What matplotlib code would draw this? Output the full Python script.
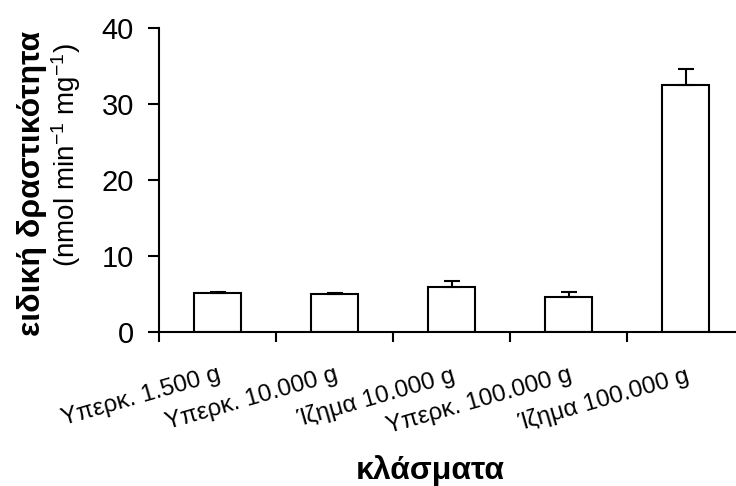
import numpy as np
import matplotlib
matplotlib.use('Agg')
import matplotlib.pyplot as plt

# data
fractions = ['Υπερκ. 1.500 g', 'Υπερκ. 10.000 g', 'Ίζημα 10.000 g',
             'Υπερκ. 100.000 g', 'Ίζημα 100.000 g']
activity = [5.1, 5.05, 5.9, 4.6, 32.5]
activity_err = [0.1, 0.05, 0.75, 0.6, 2.1]
y_ticks = [0, 10, 20, 30, 40]

plt.rcParams['font.family'] = ['Liberation Sans', 'DejaVu Sans']

fig = plt.figure(figsize=(7.36, 4.86), dpi=100)
# axes run off the right edge like in the original
ax = fig.add_axes([159/736, 154/486, 585/736, 304/486])

x = np.arange(len(fractions))
ax.bar(x, activity, width=0.4, color='white', edgecolor='black', linewidth=1.5)
ax.errorbar(x, activity, yerr=[np.zeros(len(x)), activity_err], fmt='none',
            ecolor='black', elinewidth=1.5, capsize=6, capthick=1.5)

ax.set_xlim(-0.5, len(fractions) - 0.5)
ax.set_ylim(0, 40)
ax.set_yticks(y_ticks)
ax.set_yticklabels([str(t) for t in y_ticks], fontsize=21)

# tick marks sit between the categories, labels under the bars
ax.set_xticks(x)
ax.set_xticks(np.arange(-0.5, len(fractions)), minor=True)
ax.set_xticklabels(fractions, fontsize=17.5, rotation=16, ha='right', va='top',
                   rotation_mode='anchor')
ax.tick_params(axis='x', which='major', length=0, pad=23)
ax.tick_params(axis='x', which='minor', length=7, width=1.5, direction='out')
ax.tick_params(axis='y', length=8, width=1.5, direction='out', pad=10)

for s in ['top', 'right']:
    ax.spines[s].set_visible(False)
for s in ['left', 'bottom']:
    ax.spines[s].set_linewidth(1.5)

fig.text(430/736, 1 - 479/486, 'κλάσματα', fontsize=23, fontweight='bold',
         ha='center', va='baseline')
fig.text(32/736, 1 - 183/486, 'ειδική δραστικότητα', fontsize=23, fontweight='bold',
         rotation=90, ha='center', va='center')
fig.text(66/736, 1 - 155/486, r'(nmol min$\mathregular{^{-1}}$ mg$\mathregular{^{-1}}$)',
         fontsize=20, rotation=90, ha='center', va='center')

fig.savefig('out.png', dpi=100)
